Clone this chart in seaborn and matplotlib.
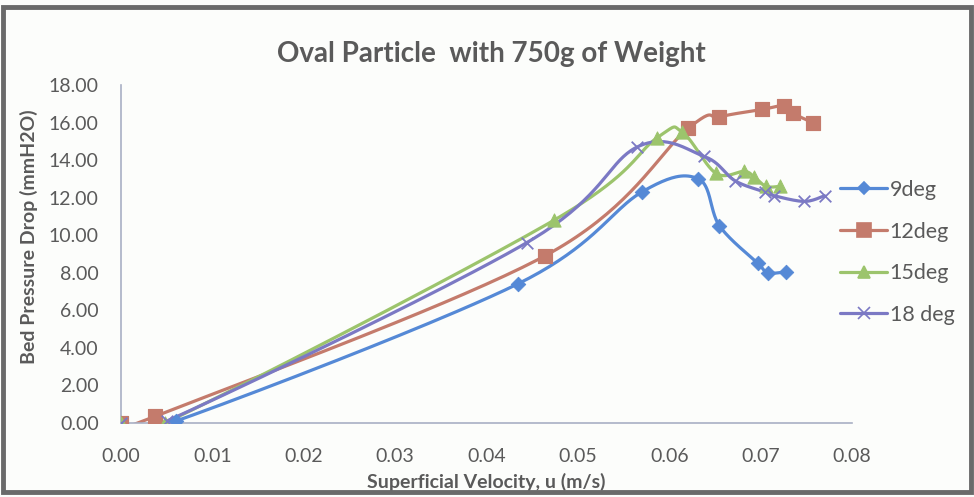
import numpy as np
import pandas as pd
import matplotlib
matplotlib.use("Agg")
import matplotlib.pyplot as plt
from matplotlib.lines import Line2D
from matplotlib.patches import Rectangle
import seaborn as sns

# Superficial velocity (m/s) and bed pressure drop (mmH2O) per inclination angle
x_9deg = [0.0, 0.0060, 0.0434, 0.0570, 0.0632, 0.0655, 0.0697, 0.0708, 0.0728]
y_9deg = [0.0, 0.10, 7.40, 12.30, 13.00, 10.50, 8.50, 8.00, 8.05]

x_12deg = [0.0, 0.0037, 0.0464, 0.0621, 0.0655, 0.0702, 0.0726, 0.0735, 0.0757]
y_12deg = [0.0, 0.35, 8.90, 15.70, 16.30, 16.70, 16.90, 16.50, 16.00]

x_15deg = [0.0, 0.0048, 0.0474, 0.0587, 0.0614, 0.0651, 0.0682, 0.0693, 0.0706, 0.0721]
y_15deg = [0.0, 0.00, 10.80, 15.20, 15.50, 13.30, 13.40, 13.10, 12.60, 12.60]

x_18deg = [0.0, 0.0050, 0.0444, 0.0565, 0.0638, 0.0672, 0.0705, 0.0715, 0.0748, 0.0770]
y_18deg = [0.0, 0.10, 9.60, 14.70, 14.20, 12.90, 12.30, 12.10, 11.80, 12.10]

series_names = ["9deg", "12deg", "15deg", "18 deg"]
x_ticks = [0.00, 0.01, 0.02, 0.03, 0.04, 0.05, 0.06, 0.07, 0.08]
y_ticks = [0.0, 2.0, 4.0, 6.0, 8.0, 10.0, 12.0, 14.0, 16.0, 18.0]

colors = {"9deg": "#5589d6", "12deg": "#c47b6c", "15deg": "#9cc46c", "18 deg": "#7b79c4"}
markers = {"9deg": "D", "12deg": "s", "15deg": "^", "18 deg": "x"}
marker_sizes = {"9deg": 55, "12deg": 110, "15deg": 90, "18 deg": 70}
legend_marker_sizes = {"9deg": 6, "12deg": 10, "15deg": 9, "18 deg": 8}


def smooth(xs, ys, n=40):
    """Spreadsheet-style smoothed line: cubic Bezier through each point."""
    pts = np.column_stack([xs, ys]).astype(float)
    P = np.vstack([pts[0], pts, pts[-1]])
    t = np.linspace(0, 1, n)[:, None]
    out = []
    for i in range(1, len(P) - 2):
        p0, p1, p2, p3 = P[i - 1], P[i], P[i + 1], P[i + 2]
        c1 = p1 + (p2 - p0) / 6.0
        c2 = p2 - (p3 - p1) / 6.0
        seg = ((1 - t) ** 3) * p1 + 3 * ((1 - t) ** 2) * t * c1 + 3 * (1 - t) * t ** 2 * c2 + t ** 3 * p2
        out.append(seg if i == 1 else seg[1:])
    return np.vstack(out)


raw = {
    "9deg": (x_9deg, y_9deg),
    "12deg": (x_12deg, y_12deg),
    "15deg": (x_15deg, y_15deg),
    "18 deg": (x_18deg, y_18deg),
}

points = pd.concat(
    [pd.DataFrame({"u": xs, "dp": ys, "angle": name}) for name, (xs, ys) in raw.items()],
    ignore_index=True,
)
curve_frames = []
for name, (xs, ys) in raw.items():
    c = smooth(xs, ys)
    curve_frames.append(pd.DataFrame({"u": c[:, 0], "dp": c[:, 1], "angle": name}))
curves = pd.concat(curve_frames, ignore_index=True)

sns.set_theme(style="white")
plt.rcParams["font.family"] = ["Lato", "DejaVu Sans"]

text_gray = "#5a5a5a"
axis_gray = "#a9b0c4"

fig = plt.figure(figsize=(9.74, 4.97), dpi=100)
fig.patch.set_facecolor("#fcfdfb")
ax = fig.add_axes([0.1242, 0.1489, 0.7505, 0.6801])
ax.set_facecolor("#fcfdfb")

for name in series_names:
    sub_c = curves[curves["angle"] == name]
    sns.lineplot(data=sub_c, x="u", y="dp", sort=False, estimator=None,
                 color=colors[name], linewidth=2.3, ax=ax, legend=False, zorder=2)
for name in series_names:
    sub_p = points[points["angle"] == name]
    kw = dict(edgecolor=colors[name]) if markers[name] != "x" else dict(linewidth=1.3)
    sns.scatterplot(data=sub_p, x="u", y="dp", color=colors[name], marker=markers[name],
                    s=marker_sizes[name], ax=ax, legend=False, zorder=3, **kw)

ax.set_xlim(0, 0.08)
ax.set_ylim(0, 18)
ax.set_xticks(x_ticks)
ax.set_yticks(y_ticks)
ax.set_xticklabels([f"{v:.2f}" for v in x_ticks])
ax.set_yticklabels([f"{v:.2f}" for v in y_ticks])
ax.tick_params(axis="both", colors=axis_gray, labelcolor=text_gray, labelsize=14,
               direction="out", length=4, width=1)
ax.tick_params(axis="x", pad=14)
ax.tick_params(axis="y", pad=12)

for side in ["top", "right"]:
    ax.spines[side].set_visible(False)
for side in ["left", "bottom"]:
    ax.spines[side].set_color(axis_gray)
    ax.spines[side].set_linewidth(1.2)

ax.set_xlabel("Superficial Velocity, u (m/s)", fontsize=14, fontweight="bold",
              color=text_gray)
ax.xaxis.set_label_coords(0.5, -0.148)
ax.set_ylabel("Bed Pressure Drop (mmH2O)", fontsize=14, fontweight="bold",
              color=text_gray, labelpad=0)
ax.yaxis.set_label_coords(-0.113, 0.55)
fig.text(0.505, 0.892, "Oval Particle  with 750g of Weight", ha="center", va="center",
         fontsize=20, fontweight="bold", color=text_gray)

handles = []
for name in series_names:
    handles.append(Line2D([0], [0], color=colors[name], linewidth=2.3, marker=markers[name],
                          markersize=legend_marker_sizes[name], markeredgewidth=1.2))
leg = ax.legend(handles, series_names, loc="center left", bbox_to_anchor=(0.972, 0.505),
                frameon=False, fontsize=15.5, handlelength=2.2, handletextpad=0.1,
                labelspacing=1.0, borderaxespad=0)
for t in leg.get_texts():
    t.set_color(text_gray)

# outer chart frame
fig.patches.append(Rectangle((0.003, 0.01), 0.994, 0.975, transform=fig.transFigure,
                             fill=False, edgecolor="#6a6a6a", linewidth=3.5))

fig.savefig("out.png", dpi=100, facecolor=fig.get_facecolor())
